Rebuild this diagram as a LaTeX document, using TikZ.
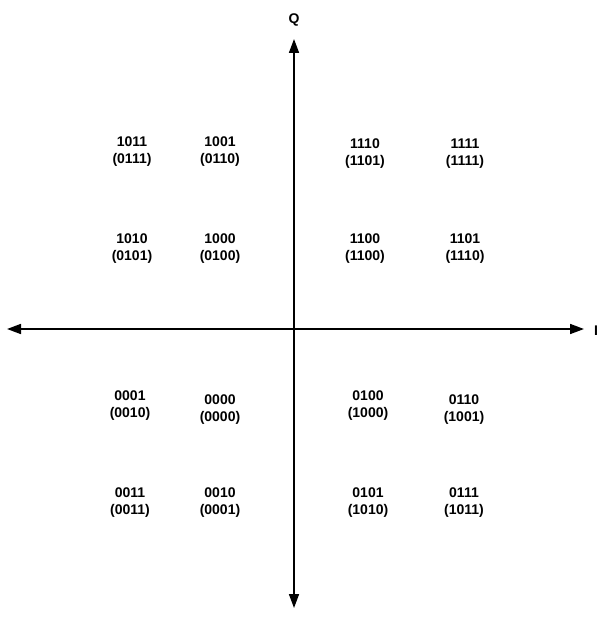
\documentclass[tikz,border=0pt]{standalone}
\usepackage{fontspec}
\setmainfont{Liberation Sans}
\usetikzlibrary{arrows.meta}
\tikzset{
  sym/.style={align=center, font=\bfseries\fontsize{14}{17}\selectfont, inner sep=0pt},
  axislabel/.style={font=\bfseries\fontsize{14}{17}\selectfont, inner sep=0pt}
}
\begin{document}
\begin{tikzpicture}[x=1pt, y=-1pt, >={Triangle[length=14pt,width=10pt]}, line width=1.6pt]
\useasboundingbox (0,0) rectangle (600,620);

% Axis ends (placed manually)
\coordinate (West) at (7,329);
\coordinate (East) at (584,329);
\coordinate (North) at (294,39);
\coordinate (South) at (294,608);

\node[axislabel] (Q) at (294,20) {Q};
\node[axislabel] (I) at (596,331) {I};

% Upper row
\node[sym] (S1011) at (132,152) {1011\\(0111)};
\node[sym] (S1001) at (220,152) {1001\\(0110)};
\node[sym] (S1110) at (365,154) {1110\\(1101)};
\node[sym] (S1111) at (465,154) {1111\\(1111)};

\node[sym] (S1010) at (132,249) {1010\\(0101)};
\node[sym] (S1000) at (220,249) {1000\\(0100)};
\node[sym] (S1100) at (365,249) {1100\\(1100)};
\node[sym] (S1101) at (465,249) {1101\\(1110)};

% Lower row
\node[sym] (S0001) at (130,406) {0001\\(0010)};
\node[sym] (S0000) at (220,410) {0000\\(0000)};
\node[sym] (S0100) at (368,406) {0100\\(1000)};
\node[sym] (S0110) at (464,410) {0110\\(1001)};

\node[sym] (S0011) at (130,503) {0011\\(0011)};
\node[sym] (S0010) at (220,503) {0010\\(0001)};
\node[sym] (S0101) at (368,503) {0101\\(1010)};
\node[sym] (S0111) at (464,503) {0111\\(1011)};

% Axes
\draw[<->] (West) -- (East);
\draw[<->] (South) -- (North);

\end{tikzpicture}
\end{document}
